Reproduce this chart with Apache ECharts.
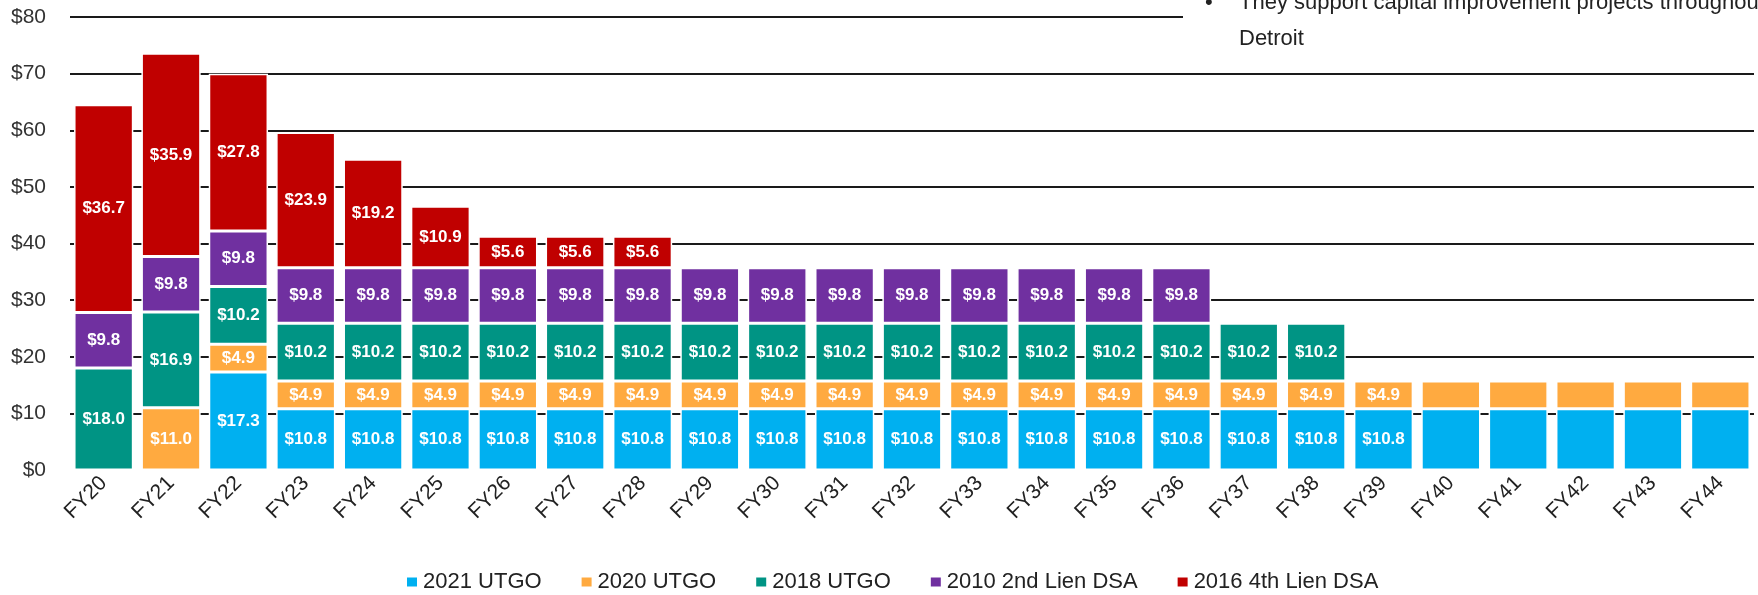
<!DOCTYPE html>
<html>
<head>
<meta charset="utf-8">
<script src="https://cdn.jsdelivr.net/npm/echarts@6/dist/echarts.min.js"></script>
<style>
  html, body { margin: 0; padding: 0; background: #fff; }
  #chart { width: 1758px; height: 595px; }
</style>
</head>
<body>
<div id="chart"></div>
<script>
// fiscal years
const categories = ['FY20','FY21','FY22','FY23','FY24','FY25','FY26','FY27','FY28','FY29','FY30','FY31',
  'FY32','FY33','FY34','FY35','FY36','FY37','FY38','FY39','FY40','FY41','FY42','FY43','FY44'];
// debt service, $ millions (null = no bar)
const utgo2021 = [null, null, 17.3, 10.8, 10.8, 10.8, 10.8, 10.8, 10.8, 10.8, 10.8, 10.8,
  10.8, 10.8, 10.8, 10.8, 10.8, 10.8, 10.8, 10.8, 10.8, 10.8, 10.8, 10.8, 10.8];
const utgo2020 = [null, 11.0, 4.9, 4.9, 4.9, 4.9, 4.9, 4.9, 4.9, 4.9, 4.9, 4.9,
  4.9, 4.9, 4.9, 4.9, 4.9, 4.9, 4.9, 4.9, 4.9, 4.9, 4.9, 4.9, 4.9];
const utgo2018 = [18.0, 16.9, 10.2, 10.2, 10.2, 10.2, 10.2, 10.2, 10.2, 10.2, 10.2, 10.2,
  10.2, 10.2, 10.2, 10.2, 10.2, 10.2, 10.2, null, null, null, null, null, null];
const dsa2010 = [9.8, 9.8, 9.8, 9.8, 9.8, 9.8, 9.8, 9.8, 9.8, 9.8, 9.8, 9.8,
  9.8, 9.8, 9.8, 9.8, 9.8, null, null, null, null, null, null, null, null];
const dsa2016 = [36.7, 35.9, 27.8, 23.9, 19.2, 10.9, 5.6, 5.6, 5.6, null, null, null,
  null, null, null, null, null, null, null, null, null, null, null, null, null];
// years whose bars carry no value labels in the source
const unlabeled = ['FY40','FY41','FY42','FY43','FY44'];
const yTicks = [0, 10, 20, 30, 40, 50, 60, 70, 80];

const FONT = '"Liberation Sans", Arial, sans-serif';

function makeSeries(name, values, color) {
  return {
    name: name,
    type: 'bar',
    stack: 'total',
    barCategoryGap: '12%',
    itemStyle: { color: color, borderColor: '#fff', borderWidth: 1.5 },
    label: {
      show: true,
      color: '#fff',
      fontWeight: 'bold',
      fontSize: 17,
      fontFamily: FONT,
      formatter: p => '$' + Number(p.value).toFixed(1)
    },
    data: values.map((v, i) => unlabeled.includes(categories[i])
      ? { value: v, label: { show: false } }
      : v)
  };
}

const chart = echarts.init(document.getElementById('chart'));
chart.setOption({
  animation: false,
  textStyle: { fontFamily: FONT },
  grid: { left: 70, right: 4, top: 17, bottom: 125 },
  legend: {
    top: 566,
    left: 400,
    itemWidth: 12,
    itemHeight: 11,
    itemGap: 38,
    icon: 'rect',
    textStyle: { fontSize: 22, color: '#222', fontFamily: FONT },
    data: ['2021 UTGO', '2020 UTGO', '2018 UTGO', '2010 2nd Lien DSA', '2016 4th Lien DSA']
  },
  xAxis: {
    type: 'category',
    data: categories,
    axisLine: { show: false },
    axisTick: { show: false },
    axisLabel: { rotate: 45, fontSize: 21, color: '#222', margin: 10, fontFamily: FONT }
  },
  yAxis: {
    type: 'value',
    min: yTicks[0],
    max: yTicks[yTicks.length - 1],
    interval: 10,
    axisLine: { show: false },
    axisTick: { show: false },
    axisLabel: { fontSize: 21, color: '#333', margin: 24, fontFamily: FONT, formatter: v => '$' + v },
    splitLine: { showMinLine: false, lineStyle: { color: '#1a1a1a', width: 2 } }
  },
  graphic: [
    { type: 'rect', left: 1183, top: 0, shape: { width: 575, height: 56 }, style: { fill: '#fff' }, z: 1 },
    { type: 'text', left: 1205, top: -15, z: 2,
      style: { text: '•', fontSize: 22, lineHeight: 36, fill: '#222', fontFamily: FONT } },
    { type: 'text', left: 1239, top: -15, z: 2,
      style: { text: 'They support capital improvement projects throughout\nDetroit', fontSize: 22,
        lineHeight: 36, fill: '#222', fontFamily: FONT } }
  ],
  series: [
    makeSeries('2021 UTGO', utgo2021, '#00B0F0'),
    makeSeries('2020 UTGO', utgo2020, '#FFAA40'),
    makeSeries('2018 UTGO', utgo2018, '#009484'),
    makeSeries('2010 2nd Lien DSA', dsa2010, '#7030A0'),
    makeSeries('2016 4th Lien DSA', dsa2016, '#C00000')
  ]
});
</script>
</body>
</html>
